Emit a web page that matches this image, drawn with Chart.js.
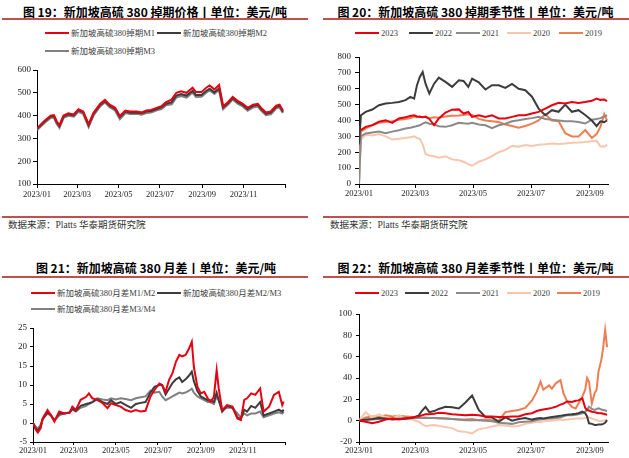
<!DOCTYPE html>
<html>
<head>
<meta charset="utf-8">
<script src="https://cdn.jsdelivr.net/npm/chart.js@4.4.0/dist/chart.umd.min.js"></script>
<style>
body{margin:0;width:629px;height:458px;background:#fff;position:relative;overflow:hidden;font-family:"Liberation Serif","Noto Sans CJK SC",serif;}
.t{position:absolute;font-family:"Noto Sans CJK SC",sans-serif;font-weight:bold;font-size:12px;line-height:16px;color:#000;text-align:center;white-space:nowrap;}
.rule{position:absolute;height:2px;background:#c0504d;}
.src{position:absolute;font-size:9.5px;line-height:12px;color:#333;white-space:nowrap;}
.lg{position:absolute;font-size:8.5px;line-height:12px;color:#404040;white-space:nowrap;}
.lg i{display:inline-block;width:24px;height:2px;vertical-align:middle;margin-right:2px;position:relative;top:-1px;}
canvas{position:absolute;}
</style>
</head>
<body>

<div class="t" style="left:0;width:310px;top:4px">图 19：新加坡高硫 380 掉期价格丨单位：美元/吨</div>
<div class="rule" style="left:2px;width:306px;top:18px"></div>
<div class="lg" style="left:45px;top:27px"><i style="background:#e60012"></i>新加坡高硫380掉期M1</div>
<div class="lg" style="left:157px;top:27px"><i style="background:#3c3c3c"></i>新加坡高硫380掉期M2</div>
<div class="lg" style="left:45px;top:45px"><i style="background:#808080"></i>新加坡高硫380掉期M3</div>
<canvas id="c19" width="300" height="145" style="left:0;top:60px"></canvas>
<div class="rule" style="left:2px;width:306px;top:216px"></div>
<div class="src" style="left:8px;top:219px">数据来源：Platts 华泰期货研究院</div>

<div class="t" style="left:322px;width:307px;top:4px">图 20：新加坡高硫 380 掉期季节性丨单位：美元/吨</div>
<div class="rule" style="left:323px;width:306px;top:18px"></div>
<div class="lg" style="left:355px;top:27px"><i style="background:#e60012"></i>2023</div>
<div class="lg" style="left:409px;top:27px"><i style="background:#3c3c3c"></i>2022</div>
<div class="lg" style="left:456px;top:27px"><i style="background:#8a8a8a"></i>2021</div>
<div class="lg" style="left:507px;top:27px"><i style="background:#f7c6ac"></i>2020</div>
<div class="lg" style="left:559px;top:27px"><i style="background:#ee7e52"></i>2019</div>
<canvas id="c20" width="305" height="160" style="left:315px;top:45px"></canvas>
<div class="rule" style="left:323px;width:306px;top:216px"></div>
<div class="src" style="left:330px;top:219px">数据来源：Platts 华泰期货研究院</div>

<div class="t" style="left:0;width:312px;top:260px">图 21：新加坡高硫 380 月差丨单位：美元/吨</div>
<div class="rule" style="left:2px;width:306px;top:276px"></div>
<div class="lg" style="left:31px;top:287px"><i style="background:#e60012"></i>新加坡高硫380月差M1/M2</div>
<div class="lg" style="left:157px;top:287px"><i style="background:#3c3c3c"></i>新加坡高硫380月差M2/M3</div>
<div class="lg" style="left:31px;top:303px"><i style="background:#808080"></i>新加坡高硫380月差M3/M4</div>
<canvas id="c21" width="300" height="140" style="left:0;top:318px"></canvas>

<div class="t" style="left:322px;width:307px;top:260px">图 22：新加坡高硫 380 月差季节性丨单位：美元/吨</div>
<div class="rule" style="left:323px;width:306px;top:276px"></div>
<div class="lg" style="left:355px;top:287px"><i style="background:#e60012"></i>2023</div>
<div class="lg" style="left:405px;top:287px"><i style="background:#3c3c3c"></i>2022</div>
<div class="lg" style="left:456px;top:287px"><i style="background:#8a8a8a"></i>2021</div>
<div class="lg" style="left:507px;top:287px"><i style="background:#f7c6ac"></i>2020</div>
<div class="lg" style="left:557px;top:287px"><i style="background:#ee7e52"></i>2019</div>
<canvas id="c22" width="305" height="154" style="left:315px;top:304px"></canvas>

<script>
// x axis: day of year (0 = 1 Jan)
const monthTickDays = [0, 59, 120, 181, 243, 304, 365];
const monthTickLabels = ['2023/01', '2023/03', '2023/05', '2023/07', '2023/09', '2023/11', ''];

// 图19 掉期价格
const days19 = [0,12,20,25,29,33,39,46,54,61,68,76,83,93,100,107,115,122,130,137,147,154,161,168,176,183,190,198,205,212,220,229,234,242,249,254,261,268,274,281,288,296,303,310,318,325,330,337,344,352,357,362];
const swapM1 = [345,380,400,402,375,358,400,410,405,428,418,362,411,452,469,448,434,398,422,418,418,414,422,425,434,441,459,470,500,507,500,522,503,503,522,532,515,534,441,459,482,463,452,434,448,452,434,414,418,444,448,422];
const swapM2 = [342,376,396,398,371,354,396,406,401,424,414,358,407,447,464,443,429,393,418,413,414,410,418,420,429,436,452,458,488,495,488,508,490,490,508,518,502,520,436,454,477,458,447,429,443,447,429,409,413,439,443,417];
const swapM3 = [338,372,391,393,366,348,391,400,396,418,409,352,402,442,459,438,424,386,412,408,409,405,412,415,424,430,446,450,480,487,480,502,483,484,502,512,496,514,430,449,472,452,441,423,437,441,423,403,407,433,437,412];

// 图20 掉期季节性
const days20 = [0,2,7,14,21,28,35,42,49,54,58,61,64,67,70,74,79,84,91,98,105,110,115,119,126,133,140,147,154,161,168,175,182,189,196,203,210,217,224,231,238,245,250,254,258,261];
const price2023 = [null,339,360,371,392,402,385,413,420,428,433,425,423,420,423,410,371,413,450,468,470,444,454,423,433,423,433,413,413,423,433,433,444,454,475,496,511,507,517,511,517,524,538,530,532,522];
const price2022 = [250,433,454,469,496,507,511,517,528,549,538,622,674,706,632,570,632,670,643,612,653,649,612,664,640,595,622,622,605,630,600,591,550,475,433,465,455,500,455,465,435,400,365,395,390,400];
const price2021 = [0,300,318,325,330,320,330,339,350,355,360,365,370,380,388,380,375,364,360,370,385,382,380,385,375,370,352,370,380,395,402,410,415,423,410,405,400,395,395,390,381,405,410,415,425,433];
const price2020 = [0,280,310,305,315,300,280,285,290,295,300,290,285,250,190,180,175,165,175,155,150,140,125,115,140,155,175,200,215,240,235,245,240,248,250,255,252,255,260,262,265,270,272,238,235,248];
const price2019 = [0,330,350,370,385,390,395,405,410,415,425,420,425,420,425,415,420,418,425,430,432,435,440,435,410,400,395,390,375,365,355,365,380,400,440,400,395,320,300,300,340,290,315,360,440,400];

// 图21 月差
const days21 = [0,4,7,11,14,21,26,31,38,45,53,57,62,69,77,81,86,93,101,108,113,120,127,134,142,149,156,163,170,176,183,187,192,197,202,207,212,216,221,226,230,233,238,243,248,253,257,262,266,269,274,281,289,296,301,306,310,316,322,329,334,342,349,356,361,363];
const spreadM1M2 = [0,-1.8,-2.5,-1.4,1.2,3.4,2.1,0.4,3.0,2.5,2.7,4.3,3.4,6.1,6.9,7.8,6.5,6.1,5.2,3.9,5.2,4.7,4.3,3.4,3.0,3.4,3.0,3.2,6.9,8.7,10.4,10.0,8.2,11.3,13.1,16.1,17.9,17.5,17.9,19.6,21.4,14.8,9.6,7.8,8.2,6.5,5.6,6.9,13.9,9.1,3.4,4.7,4.3,1.2,0.8,6.1,6.5,7.8,7.4,9.1,3.0,4.3,7.4,8.2,4.7,5.6];
const spreadM2M3 = [0,-1.5,-2.0,-1.0,1.0,2.8,2.0,0.6,2.5,2.5,2.8,3.8,3.2,4.5,5.0,5.2,5.5,6.3,5.5,5.0,6.0,5.0,5.5,4.8,4.0,5.0,5.3,5.5,8.0,9.5,10.0,10.0,7.5,9.0,10.5,11.5,12.0,10.8,11.5,12.5,13.5,11.0,8.5,7.0,6.5,6.0,6.0,5.5,8.0,6.0,3.0,4.5,4.0,1.5,1.0,3.5,3.0,4.5,4.0,5.5,2.0,2.5,3.0,3.5,3.0,3.5];
const spreadM3M4 = [0,-1.0,-1.5,-0.5,1.0,2.5,2.0,0.8,2.0,2.5,2.8,3.5,3.0,4.0,4.5,5.0,5.5,6.5,6.2,6.0,6.5,6.2,6.5,6.3,6.0,6.5,6.8,7.0,8.5,8.0,8.2,7.0,6.0,6.5,7.0,7.5,8.0,7.8,8.0,8.5,9.0,8.0,7.0,6.5,6.0,5.5,5.5,5.0,7.0,6.0,3.5,4.0,4.0,2.5,1.5,2.5,2.0,2.5,2.5,3.0,1.5,2.0,2.5,2.8,2.5,3.0];

// 图22 月差季节性
const days22 = [0,7,14,21,28,35,42,49,56,63,66,70,74,79,84,91,98,105,112,119,126,133,140,147,154,161,168,175,182,187,191,194,200,203,207,212,215,219,224,228,231,235,238,240,242,245,248,250,252,255,257,259,261];
const spread2023 = [0,-1,-2.5,-1,1,2,1,2,3,4,5,6,6,6.5,7.5,7,6,5.5,5,5.5,5,4,4,3.5,3.5,3.8,4,6,7,9,10,10.5,11.5,12,13,15,16,18,17.5,18.7,19,21,12,10,9.5,8.4,8,7.5,7,7,6.5,6,5.5];
const spread2022 = [0,1,1.5,2.5,2,1,1.5,2,2.5,5,9,13,8,9,11,13,12.5,11.5,17,23.5,10,3.5,3,-1,3,0,1.5,2.5,1,2,2.5,2,3,3.5,4,4.5,5,5.5,6,6.5,7,8.5,7,4,-2.5,-3,-4,-4,-3.5,-3.5,-3,-2,0.5];
const spread2021 = [0,0.5,1,1.5,1.5,2,2,2,2.5,2.5,2.5,2.5,2.5,2.5,2.5,2,1.5,1,0.5,0.5,0.5,0,-0.5,-2,-2.5,-3,-1.5,-1,-0.5,0.5,1,1.5,2,2,2.5,3,4,5,5,5.5,6,7,8.5,10,13,11,10,11,11.5,10.5,10,9.5,9];
const spread2020 = [0,8,3,6,3,2,5,2,1,-1,-3,-5,-4.5,-4,-5,-6,-7,-10,-10.5,-12,-8,-7,-5.5,-4,-4.5,-5.5,-5,-3,-2,-1,-1.5,-0.5,0,0,0.5,1,0.5,1,1.5,2,2,2,2.5,3,3,2,1,0.5,0,-0.5,0,0.5,1];
const spread2019 = [0,3,4,3.5,5,4,4.5,4,3.5,3,3,3,2.5,2.5,2,2,1.5,1,1,1.5,0.5,1,0.5,0,8,9,10,12,19,27,36.5,29,33,30,35,38,26,18,13,11.5,16,22.5,29,40,36.5,16,26,29,46,57,69,85,69];

const RED = '#e60012', DARK = '#3c3c3c', GRAY = '#808080', GRAY2 = '#8a8a8a', PINK = '#f7c6ac', ORANGE = '#ee7e52';

function makeChart(id, days, sets, cfg) {
  const nTicks = cfg.nTicks;
  return new Chart(document.getElementById(id), {
    type: 'line',
    data: {
      datasets: sets.map(s => ({
        label: s.label,
        data: days.map((d, i) => ({x: d, y: s.data[i]})),
        borderColor: s.color,
        backgroundColor: s.color,
        borderWidth: s.width || 2,
        pointRadius: 0,
        tension: 0,
        spanGaps: true
      }))
    },
    options: {
      responsive: false,
      animation: false,
      events: [],
      layout: {padding: {top: cfg.padTop, right: cfg.padRight, left: 0, bottom: 0}},
      plugins: {legend: {display: false}, tooltip: {enabled: false}},
      scales: {
        x: {
          type: 'linear',
          min: 0,
          max: cfg.xMax,
          afterBuildTicks: sc => { sc.ticks = monthTickDays.slice(0, nTicks).map(v => ({value: v})); },
          afterFit: sc => { sc.height = cfg.xh; },
          ticks: {
            autoSkip: false,
            maxRotation: 0,
            padding: cfg.xPad,
            color: '#222',
            font: {family: 'Liberation Serif', size: 8.5},
            callback: (v, i) => monthTickLabels[i]
          },
          grid: {drawOnChartArea: false, drawTicks: true, tickLength: cfg.tickLen, color: '#000'},
          border: {color: '#000', width: 1}
        },
        y: {
          min: cfg.yMin,
          max: cfg.yMax,
          afterFit: sc => { sc.width = cfg.yw; },
          ticks: {
            stepSize: cfg.step,
            padding: cfg.yPad,
            color: '#222',
            font: {family: 'Liberation Serif', size: 9}
          },
          grid: {drawOnChartArea: false, drawTicks: true, tickLength: cfg.tickLen, color: '#000'},
          border: {color: '#000', width: 1}
        }
      }
    }
  });
}

makeChart('c19', days19, [
  {label: '新加坡高硫380掉期M1', data: swapM1, color: RED},
  {label: '新加坡高硫380掉期M2', data: swapM2, color: DARK},
  {label: '新加坡高硫380掉期M3', data: swapM3, color: GRAY, width: 2.5}
], {nTicks: 7, xMax: 365, padTop: 10, padRight: 15, xh: 21, yw: 37, yMin: 100, yMax: 600, step: 50, tickLen: 4, xPad: 2, yPad: 2});

makeChart('c20', days20, [
  {label: '2023', data: price2023, color: RED},
  {label: '2022', data: price2022, color: DARK},
  {label: '2021', data: price2021, color: GRAY2},
  {label: '2020', data: price2020, color: PINK},
  {label: '2019', data: price2019, color: ORANGE}
], {nTicks: 5, xMax: 262, padTop: 12, padRight: 12, xh: 21, yw: 44, yMin: 0, yMax: 800, step: 100, tickLen: 4, xPad: 1, yPad: 4});

makeChart('c21', days21, [
  {label: '新加坡高硫380月差M1/M2', data: spreadM1M2, color: RED},
  {label: '新加坡高硫380月差M2/M3', data: spreadM2M3, color: DARK},
  {label: '新加坡高硫380月差M3/M4', data: spreadM3M4, color: GRAY}
], {nTicks: 7, xMax: 365, padTop: 10, padRight: 15, xh: 16, yw: 33, yMin: -5, yMax: 25, step: 5, tickLen: 3, xPad: 1, yPad: 3});

makeChart('c22', days22, [
  {label: '2023', data: spread2023, color: RED},
  {label: '2022', data: spread2022, color: DARK},
  {label: '2021', data: spread2021, color: GRAY2},
  {label: '2020', data: spread2020, color: PINK},
  {label: '2019', data: spread2019, color: ORANGE}
], {nTicks: 5, xMax: 262, padTop: 10, padRight: 12, xh: 16, yw: 44, yMin: -20, yMax: 100, step: 20, tickLen: 3, xPad: 1, yPad: 4});
</script>
</body>
</html>
